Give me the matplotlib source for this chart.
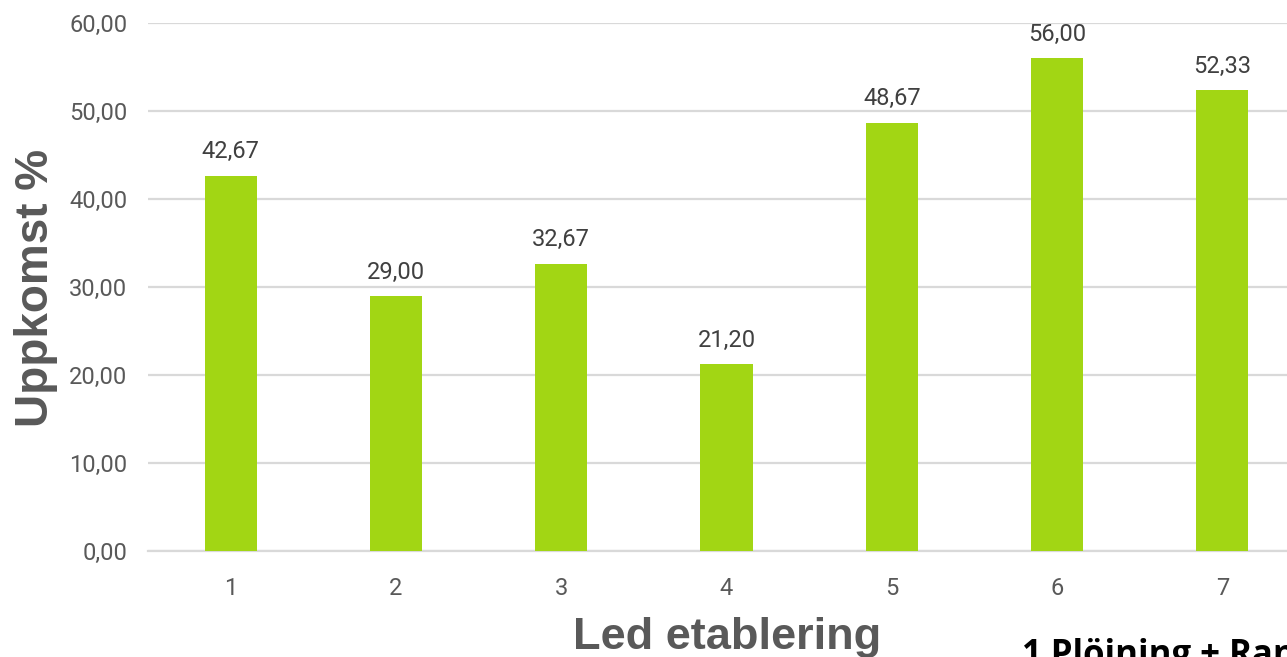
import matplotlib.pyplot as plt

# Uppkomst per led
led = ["1", "2", "3", "4", "5", "6", "7"]
uppkomst = [42.67, 29.00, 32.67, 21.20, 48.67, 56.00, 52.33]
yticks = [0, 10, 20, 30, 40, 50, 60]

bar_color = "#A2D614"
grey = "#595959"

fig = plt.figure(figsize=(12.87, 6.57), dpi=100)
ax = fig.add_axes([148 / 1287, 106 / 657, (1305 - 148) / 1287, (551 - 23) / 657])

x = range(len(led))
bars = ax.bar(x, uppkomst, width=0.315, color=bar_color, zorder=3)

for b, v in zip(bars, uppkomst):
    ax.text(b.get_x() + b.get_width() / 2, v + 1.4, f"{v:.2f}".replace(".", ","),
            ha="center", va="bottom", fontsize=17, color="#404040", family="Roboto")

ax.set_xlim(-0.5, len(led) - 0.5)
ax.set_ylim(0, 60)
ax.set_yticks(yticks)
ax.set_yticklabels([f"{t:.2f}".replace(".", ",") for t in yticks])
ax.set_xticks(list(x))
ax.set_xticklabels(led)
ax.yaxis.grid(True, color="#D9D9D9", linewidth=1.6, zorder=0)
ax.set_axisbelow(True)
for s in ["top", "right", "left"]:
    ax.spines[s].set_visible(False)
ax.spines["bottom"].set_color("#D9D9D9")
ax.spines["bottom"].set_linewidth(1.6)
ax.tick_params(axis="both", length=0, labelsize=17, labelcolor=grey)
ax.tick_params(axis="y", pad=15)
ax.tick_params(axis="x", pad=19)
for lbl in ax.get_xticklabels() + ax.get_yticklabels():
    lbl.set_family("Roboto")

fig.text(36 / 1287, (657 - 288) / 657, "Uppkomst %", rotation=90, ha="center", va="center",
         fontsize=33, fontweight="bold", color=grey, family="Liberation Sans")
fig.text(727 / 1287, (657 - 637) / 657, "Led etablering", ha="center", va="center",
         fontsize=32.5, fontweight="bold", color=grey, family="Liberation Sans")
fig.text(1022 / 1287, (657 - 638) / 657, "1 Plöjning + Ran", ha="left", va="top",
         fontsize=25, fontweight="bold", color="black", family="Open Sans")

fig.savefig("out.png", dpi=100)
